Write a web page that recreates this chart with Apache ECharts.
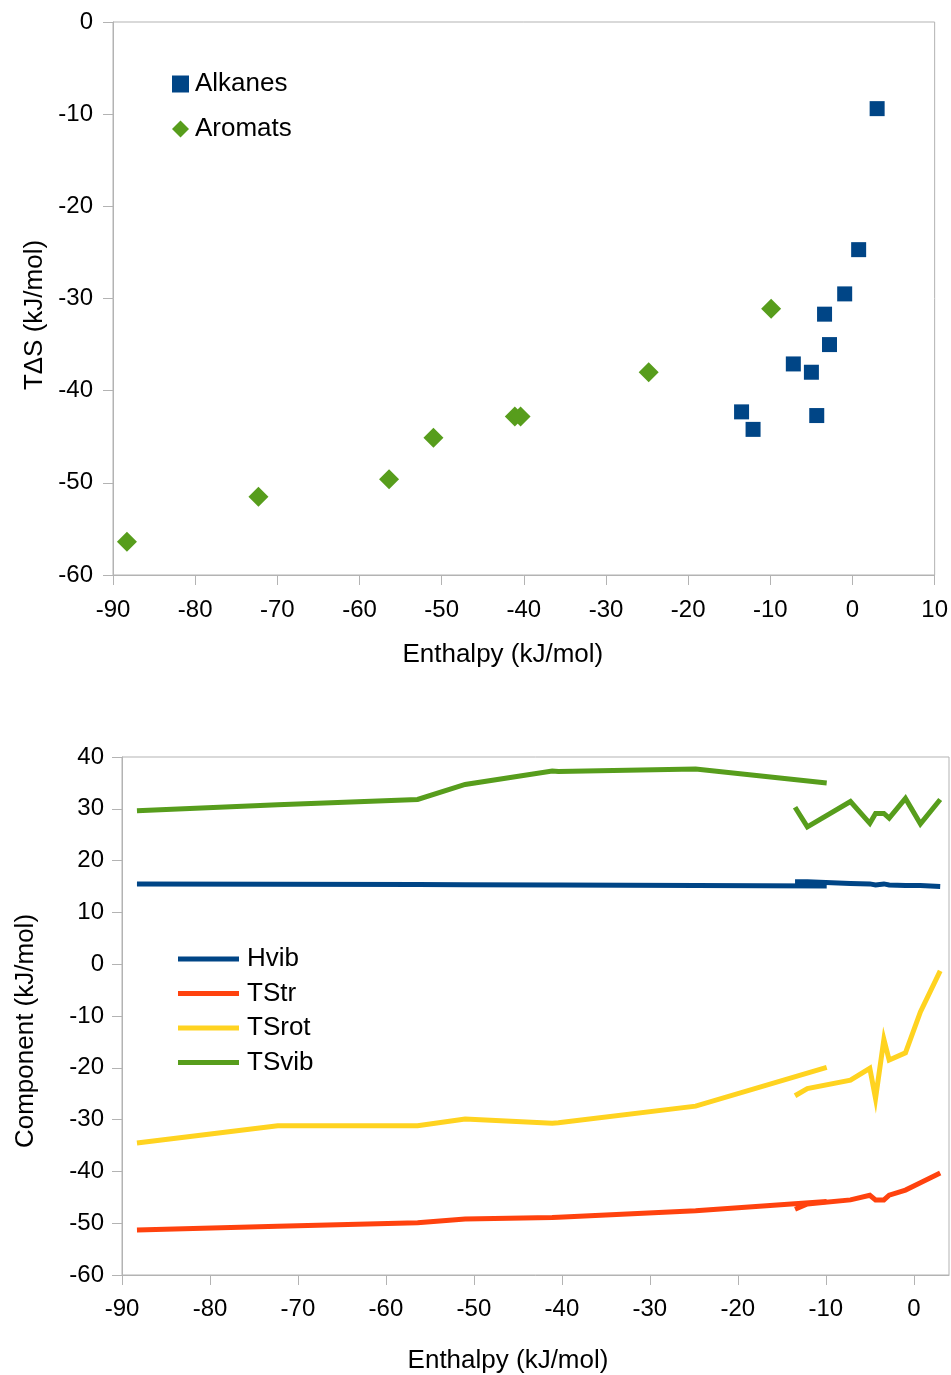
<!DOCTYPE html>
<html>
<head>
<meta charset="utf-8">
<script src="https://cdn.jsdelivr.net/npm/echarts@6/dist/echarts.min.js"></script>
<style>
html,body{margin:0;padding:0;background:#fff;}
#chart{width:951px;height:1375px;}
</style>
</head>
<body>
<div id="chart"></div>
<script>
// ---------- Data ----------
// Top chart: T-Delta-S vs Enthalpy
const aromH  = [-88.3, -72.3, -56.4, -51.0, -41.1, -40.4, -24.8, -9.9];
const aromTS = [-56.4, -51.5, -49.6, -45.1, -42.8, -42.8, -38.0, -31.1];
const alkH   = [-13.5, -12.1, -7.2, -5.0, -4.35, -3.4, -2.8, -0.95, 0.75, 3.0];
const alkTS  = [-42.3, -44.2, -37.1, -38.0, -42.7, -31.7, -35.0, -29.5, -24.7, -9.4];

// Bottom chart: components (aromats segment, alkanes segment)
const hvibArom  = [15.5, 15.45, 15.4, 15.35, 15.3, 15.3, 15.2, 15.1];
const hvibAlk   = [15.9, 15.9, 15.6, 15.5, 15.3, 15.5, 15.3, 15.2, 15.2, 15.0];
const tstrArom  = [-51.3, -50.6, -49.9, -49.2, -48.9, -48.85, -47.6, -45.8];
const tstrAlk   = [-47.3, -46.3, -45.5, -44.6, -45.5, -45.5, -44.6, -43.6, -42.2, -40.3];
const tsrotArom = [-34.5, -31.2, -31.2, -29.9, -30.7, -30.6, -27.4, -19.9];
const tsrotAlk  = [-25.4, -24.0, -22.4, -20.1, -25.9, -14.5, -18.5, -17.1, -9.2, -1.3];
const tsvibArom = [29.6, 30.8, 31.8, 34.7, 37.3, 37.2, 37.7, 35.0];
const tsvibAlk  = [30.3, 26.5, 31.4, 27.2, 29.1, 29.1, 28.2, 32.0, 27.1, 31.8];

const componentNames = ['Hvib', 'TStr', 'TSrot', 'TSvib'];
const scatterNames = ['Alkanes', 'Aromats'];

// Tick labels
const bottomXTicks = [-90, -80, -70, -60, -50, -40, -30, -20, -10, 0];

// ---------- Styling ----------
const C_BLUE = '#004586', C_RED = '#ff420e', C_YEL = '#ffd320', C_GRN = '#579d1c';
const AX = '#b3b3b3';
const FONT = '"Liberation Sans", Arial, sans-serif';

function zip(xs, ys) { return xs.map((x, i) => [x, ys[i]]); }

function axisCommon() {
  return {
    axisLine: { show: true, onZero: false, lineStyle: { color: AX, width: 1 } },
    axisTick: { show: true, length: 10, inside: false, lineStyle: { color: AX } },
    splitLine: { show: false },
    axisLabel: { color: '#000', fontSize: 24, fontFamily: FONT, margin: 20 },
    nameTextStyle: { color: '#000', fontSize: 26, fontFamily: FONT }
  };
}

const chart = echarts.init(document.getElementById('chart'), null, { renderer: 'canvas' });

const lineSeries = [];
const comps = [
  [componentNames[0], C_BLUE, hvibArom, hvibAlk],
  [componentNames[1], C_RED, tstrArom, tstrAlk],
  [componentNames[2], C_YEL, tsrotArom, tsrotAlk],
  [componentNames[3], C_GRN, tsvibArom, tsvibAlk]
];
comps.forEach(([name, color, arom, alk]) => {
  [[aromH, arom], [alkH, alk]].forEach(([xs, ys]) => {
    lineSeries.push({
      name: name, type: 'line', xAxisIndex: 1, yAxisIndex: 1,
      data: zip(xs, ys), showSymbol: false, symbol: 'none',
      lineStyle: { color: color, width: 5, cap: 'butt', join: 'miter' },
      itemStyle: { color: color },
      animation: false, silent: true
    });
  });
});

const option = {
  backgroundColor: '#fff',
  animation: false,
  grid: [
    { left: 113, right: 16, top: 22, bottom: 800, show: true, borderColor: AX, borderWidth: 1, backgroundColor: 'transparent' },
    { left: 122, right: 2, top: 757, bottom: 100, show: true, borderColor: AX, borderWidth: 1, backgroundColor: 'transparent' }
  ],
  xAxis: [
    Object.assign(axisCommon(), {
      type: 'value', gridIndex: 0, min: -90, max: 10, interval: 10,
      name: 'Enthalpy (kJ/mol)', nameLocation: 'middle', nameGap: 67,
      nameTextStyle: { color: '#000', fontSize: 26, fontFamily: FONT, padding: [0, 42, 0, 0] },
      axisLabel: { color: '#000', fontSize: 24, fontFamily: FONT, margin: 23 }
    }),
    Object.assign(axisCommon(), {
      type: 'value', gridIndex: 1, min: -90, max: 4, interval: 10,
      name: 'Enthalpy (kJ/mol)', nameLocation: 'middle', nameGap: 73,
      nameTextStyle: { color: '#000', fontSize: 26, fontFamily: FONT, padding: [0, 55, 0, 0] },
      axisTick: { show: true, length: 10, lineStyle: { color: AX }, customValues: bottomXTicks },
      axisLabel: { color: '#000', fontSize: 24, fontFamily: FONT, margin: 22, customValues: bottomXTicks }
    })
  ],
  yAxis: [
    Object.assign(axisCommon(), {
      type: 'value', gridIndex: 0, min: -60, max: 0, interval: 10,
      name: 'TΔS (kJ/mol)', nameLocation: 'middle', nameGap: 57,
      nameTextStyle: { color: '#000', fontSize: 26, fontFamily: FONT, padding: [0, 33, 0, 0] }
    }),
    Object.assign(axisCommon(), {
      type: 'value', gridIndex: 1, min: -60, max: 40, interval: 10,
      name: 'Component (kJ/mol)', nameLocation: 'middle', nameGap: 83,
      nameTextStyle: { color: '#000', fontSize: 26, fontFamily: FONT, padding: [0, 30, 0, 0] },
      axisLabel: { color: '#000', fontSize: 24, fontFamily: FONT, margin: 18 }
    })
  ],
  legend: [
    {
      data: scatterNames, orient: 'vertical', left: 172, top: 71, padding: 0,
      itemWidth: 17, itemHeight: 17, itemGap: 19,
      textStyle: { color: '#000', fontSize: 26, fontFamily: FONT, padding: [0, 0, 0, 1] },
      selectedMode: false
    },
    {
      data: componentNames.map(n => ({ name: n, icon: 'rect' })), orient: 'vertical', left: 178, top: 946, padding: 0,
      itemWidth: 61, itemHeight: 5, itemGap: 8.5,
      textStyle: { color: '#000', fontSize: 26, fontFamily: FONT, padding: [0, 0, 0, 3] },
      selectedMode: false
    }
  ],
  series: [
    {
      name: scatterNames[0], type: 'scatter', xAxisIndex: 0, yAxisIndex: 0,
      data: zip(alkH, alkTS), symbol: 'rect', symbolSize: 15,
      itemStyle: { color: C_BLUE, opacity: 1 }, silent: true
    },
    {
      name: scatterNames[1], type: 'scatter', xAxisIndex: 0, yAxisIndex: 0,
      data: zip(aromH, aromTS), symbol: 'diamond', symbolSize: 20,
      itemStyle: { color: C_GRN, opacity: 1 }, silent: true
    }
  ].concat(lineSeries)
};

chart.setOption(option);
</script>
</body>
</html>
